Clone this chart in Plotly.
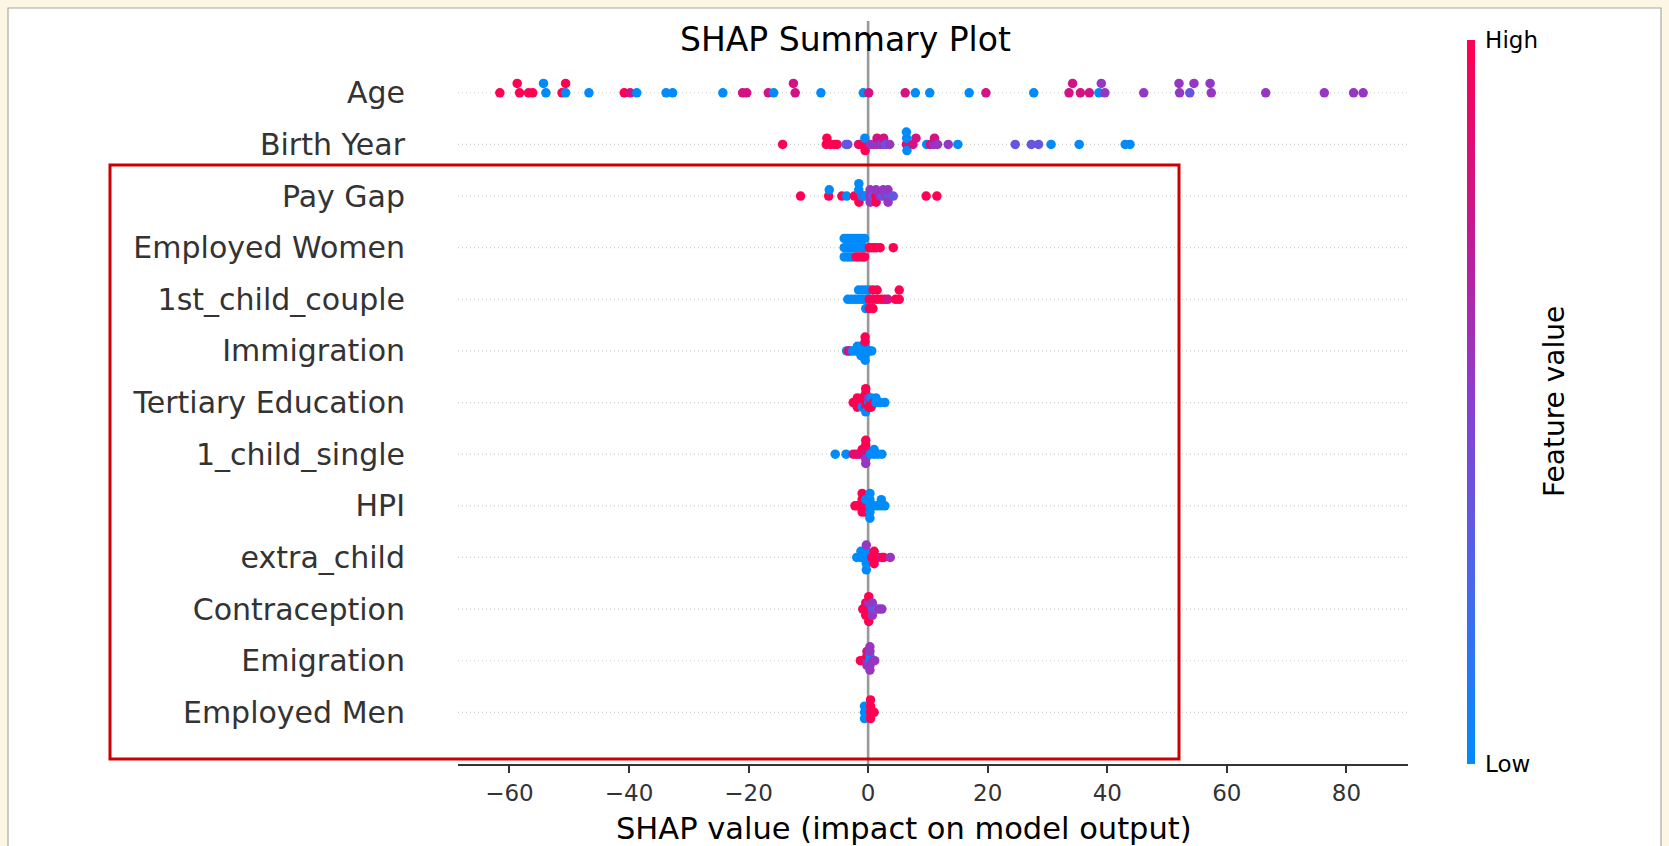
import numpy as np
import plotly.graph_objects as go

W, H = 1669, 846

features = ["Age", "Birth Year", "Pay Gap", "Employed Women", "1st_child_couple",
            "Immigration", "Tertiary Education", "1_child_single", "HPI", "extra_child",
            "Contraception", "Emigration", "Employed Men"]

x_ticks = [-60, -40, -20, 0, 20, 40, 60, 80]

# SHAP values and (normalised) feature values per feature
age_shap = [-61.6, -58.3, -58.7, -56.8, -56.1, -53.9, -54.3, -51.2, -50.6, -50.6, -46.7,
            -40.8, -39.8, -38.7, -33.8, -32.7, -24.3, -21.0, -20.3, -16.7, -15.8, -12.2,
            -12.5, -7.9, -0.8, 0.1, 6.2, 7.9, 10.3, 16.9, 19.7, 27.7, 33.6, 34.2, 35.5,
            37.0, 38.6, 39.6, 39.0, 46.1, 52.1, 52.0, 53.8, 54.5, 57.4, 57.2, 66.5, 76.3,
            81.2, 82.8]
age_fv = [1, 1, 1, 1, 1, 0, 0, 1, 0, 1, 0,
          1, 0.8, 0, 0, 0, 0, 0.8, 0.8, 0.8, 0, 0.8,
          0.8, 0, 0, 0.8, 0.8, 0, 0, 0, 0.8, 0, 0.8, 0.8, 0.8,
          0.8, 0, 0.55, 0.55, 0.55, 0.55, 0.55, 0.35, 0.55, 0.55, 0.55, 0.55, 0.55,
          0.55, 0.55]

by_shap = [-14.3, -7.0, -6.9, -6.3, -5.6, -5.2, -3.7, -3.4, -1.6, -1.2, -0.6, -0.55, -0.5,
           0.4, 0.9, 1.4, 1.5, 2.0, 2.5, 2.6, 3.0, 3.6, 6.4, 6.45, 6.5, 6.4, 7.5, 8.0, 9.8,
           10.4, 11.0, 11.1, 11.6, 13.4, 15.0, 24.6, 27.3, 28.5, 30.6, 35.3, 43.0, 43.8]
by_fv = [1, 1, 1, 1, 1, 1, 0.35, 0.35, 0.8, 1, 1, 0, 1,
         0.55, 0.55, 0.55, 0.8, 0.55, 0.55, 0.8, 0.35, 0.55, 0.8, 0, 0, 0, 0.8, 0.8, 0,
         0.8, 0.55, 0.8, 0.55, 0.55, 0, 0.35, 0.35, 0.35, 0, 0, 0, 0]

pg_shap = [-11.3, -6.6, -6.5, -4.4, -3.6, -2.3, -1.55, -1.57, -1.53, -1.55, -1.0, -0.8, -0.5,
           0.3, 0.32, 0.34, 0.9, 1.3, 1.32, 1.34, 2.0, 2.5, 2.52, 3.0, 3.3, 3.32, 3.34, 4.2,
           9.7, 11.5]
pg_fv = [1, 1, 0, 1, 0, 1, 1, 0, 1, 0, 0, 0.35, 0,
         0.55, 0.55, 0.55, 0.35, 1, 0.55, 1, 0.55, 0.35, 0.55, 0.55, 0.35, 0.55, 0.55, 0.35,
         1, 1]

ew_shap = [-4.0, -4.0, -4.0, -3.5, -3.5, -3.5, -3.0, -3.0, -3.0, -2.5, -2.5, -2.5,
           -2.0, -2.0, -2.0, -1.5, -1.5, -1.5, -1.0, -1.0, -1.0, -0.6, -0.6, -0.6,
           0.2, 0.6, 1.0, 1.4, 2.0, 4.2]
ew_fv = [0, 0, 0, 0, 0, 0, 0, 0, 0, 0, 0, 0,
         0, 0, 1, 0, 0, 1, 0, 0, 1, 0, 0, 1,
         1, 1, 1, 1, 1, 1]

cc_shap = [-3.4, -2.8, -2.2, -1.6, -1.6, -1.0, -1.0, -0.4, -0.4, -0.4, 0.2, 0.2, 0.2,
           0.8, 0.8, 0.8, 1.5, 1.5, 2.2, 2.8, 3.3, 4.6, 5.2, 5.2]
cc_fv = [0, 0, 0, 0, 0, 0, 0, 0, 0, 0, 1, 0, 1,
         1, 1, 1, 1, 1, 1, 1, 0.8, 1, 1, 1]

im_shap = [-3.6, -3.3, -3.0, -2.6, -2.2, -1.8, -1.8, -1.2, -1.2, -1.2,
           -0.5, -0.5, -0.5, -0.5, -0.5, -0.5, 0.0, 0.3, 0.6]
im_fv = [0, 0.8, 0.8, 0, 0, 0, 0, 0, 0, 0,
         0, 0, 0, 1, 0, 1, 0, 0, 0]

te_shap = [-2.5, -1.8, -1.8, -1.8, -1.0, -1.0, -1.0, -0.4, -0.4, -0.4, -0.4, -0.4, -0.4,
           0.1, 0.1, 0.1, 0.5, 0.5, 0.5, 0.9, 1.3, 1.3, 2.0, 2.8]
te_fv = [1, 1, 1, 1, 1, 1, 0, 1, 1, 1, 1, 0, 1,
         0, 0.55, 1, 1, 0, 1, 1, 0, 0, 0, 0]

cs_shap = [-5.5, -3.7, -2.5, -2.0, -1.5, -1.0, -1.0, -0.4, -0.4, -0.4, -0.4, -0.4, -0.4,
           0.4, 1.0, 1.0, 1.6, 2.3]
cs_fv = [0, 0, 0.8, 1, 0.8, 0.8, 1, 0.8, 0.8, 0.55, 1, 0.55, 1,
         0, 0, 0, 0, 0]

hp_shap = [-2.2, -1.7, -1.0, -1.0, -1.0, -1.0, -0.4, -0.4, -0.4, 0.3, 0.3, 0.3, 0.3, 0.3,
           1.0, 1.6, 2.2, 2.2, 2.8]
hp_fv = [1, 1, 1, 1, 1, 1, 1, 0, 1, 0, 0, 0, 0, 0,
         0, 0, 0, 0, 0]

ec_shap = [-1.9, -1.2, -1.2, -0.3, -0.3, -0.3, -0.3, -0.3, 0.6, 1.0, 1.0, 1.0, 1.6, 2.3,
           2.6, 3.7]
ec_fv = [0, 0, 0, 0, 0, 0, 0.55, 0, 1, 1, 1, 1, 1, 0.8,
         1, 0.55]

co_shap = [-0.9, -0.4, -0.4, -0.4, 0.1, 0.1, 0.1, 0.1, 0.1, 0.7, 0.7, 0.7, 1.3, 1.8, 2.3]
co_fv = [1, 1, 1, 1, 1, 0.55, 1, 1, 1, 0.35, 0.55, 0.55, 0.35, 0.55, 0.55]

em_shap = [-1.3, -0.8, -0.2, -0.2, -0.2, -0.2, 0.3, 0.3, 0.3, 0.3, 0.3, 0.3, 0.8, 1.1]
em_fv = [1, 1, 0.55, 1, 0.55, 0.8, 0, 0, 0.55, 0.55, 0.55, 0.55, 0.55, 0.55]

emn_shap = [-0.6, -0.6, -0.6, 0.4, 0.4, 0.4, 0.4, 1.0]
emn_fv = [0, 0, 0, 1, 1, 1, 1, 1]

rows = [(age_shap, age_fv), (by_shap, by_fv), (pg_shap, pg_fv), (ew_shap, ew_fv),
        (cc_shap, cc_fv), (im_shap, im_fv), (te_shap, te_fv), (cs_shap, cs_fv),
        (hp_shap, hp_fv), (ec_shap, ec_fv), (co_shap, co_fv), (em_shap, em_fv),
        (emn_shap, emn_fv)]

colorscale = [[0.0, "#008bfb"], [0.25, "#4a66ee"], [0.5, "#8a3fd0"],
              [0.75, "#c8178f"], [1.0, "#ff0052"]]


def swarm(vals, nbins=100, row_height=0.4):
    """SHAP-style beeswarm offsets."""
    v = np.asarray(vals, float)
    quant = np.round(nbins * (v - v.min()) / (v.max() - v.min() + 1e-8))
    inds = np.argsort(quant, kind="stable")
    ys = np.zeros(len(v))
    layer, last = 0, -1
    for i in inds:
        if quant[i] != last:
            layer = 0
        ys[i] = np.ceil(layer / 2) * ((layer % 2) * 2 - 1)
        layer += 1
        last = quant[i]
    ys *= 0.9 * (row_height / np.max(ys + 1))
    return ys


# plot geometry (pixels)
ML, MR, MT, MB = 458, 261, 21, 82
PW, PH = W - ML - MR, H - MT - MB
XR = [-68.6, 90.3]
YR = [-1.0, 13.39]


def px_x(p):
    return (p - ML) / PW


def px_y(p):
    return (H - MB - p) / PH


n = len(features)
fig = go.Figure()
for i, (name, (sv, fv)) in enumerate(zip(features, rows)):
    pos = n - 1 - i
    ys = swarm(sv)
    fig.add_trace(go.Scatter(
        x=sv, y=pos + ys, mode="markers", name=name, showlegend=False,
        hoverinfo="x+name",
        marker=dict(size=9.5, color=fv, colorscale=colorscale, cmin=0, cmax=1,
                    line=dict(width=0),
                    showscale=(i == 0),
                    colorbar=dict(thickness=8, thicknessmode="pixels",
                                  len=(H - MB - 40) / PH, lenmode="fraction",
                                  x=px_x(1467), xanchor="left", y=0, yanchor="bottom",
                                  xpad=0, ypad=0,
                                  outlinewidth=0, tickvals=[0, 1], ticktext=["Low", "High"],
                                  ticks="outside", ticklen=6, tickcolor="rgba(0,0,0,0)",
                                  tickfont=dict(family="DejaVu Sans", size=23, color="#000")))))

shapes = [
    # white inner panel with a thin frame
    dict(type="rect", xref="paper", yref="paper", x0=px_x(8), x1=px_x(1661),
         y0=px_y(880), y1=px_y(8), line=dict(color="#a8a8a8", width=1.2),
         fillcolor="white", layer="below"),
]
for i in range(n):
    shapes.append(dict(type="line", xref="paper", yref="y", x0=0, x1=1, y0=n - 1 - i,
                       y1=n - 1 - i, line=dict(color="#d0d0d0", width=1.2, dash="1px,3px"),
                       layer="below"))
shapes.append(dict(type="line", xref="x", yref="paper", x0=0, x1=0, y0=0, y1=1,
                   line=dict(color="#999999", width=2.6), layer="below"))
# red highlight box
shapes.append(dict(type="rect", xref="paper", yref="paper", x0=px_x(110), x1=px_x(1179),
                   y0=px_y(759), y1=px_y(165), line=dict(color="#cc0000", width=3),
                   fillcolor="rgba(0,0,0,0)", layer="above"))

annotations = [
    dict(text="SHAP Summary Plot", xref="paper", yref="paper", x=px_x(845), y=px_y(40),
         xanchor="center", yanchor="middle", showarrow=False,
         font=dict(family="DejaVu Sans", size=33, color="#000")),
    dict(text="SHAP value (impact on model output)", xref="paper", yref="paper",
         x=px_x(904), y=px_y(828), xanchor="center", yanchor="middle", showarrow=False,
         font=dict(family="DejaVu Sans", size=30.5, color="#000")),
    dict(text="Feature value", xref="paper", yref="paper", x=px_x(1554), y=px_y(402),
         xanchor="center", yanchor="middle", showarrow=False, textangle=-90,
         font=dict(family="DejaVu Sans", size=28, color="#000")),
]

fig.update_layout(
    width=W, height=H,
    margin=dict(l=ML, r=MR, t=MT, b=MB, pad=0),
    paper_bgcolor="#fdf6e4", plot_bgcolor="white",
    font=dict(family="DejaVu Sans", color="#333333"),
    shapes=shapes, annotations=annotations,
    xaxis=dict(range=XR, tickvals=x_ticks, showgrid=False, zeroline=False,
               showline=True, linecolor="#333333", linewidth=2.2,
               ticks="outside", ticklen=7, tickwidth=2, tickcolor="#333333",
               tickfont=dict(family="DejaVu Sans", size=23, color="#333333")),
    yaxis=dict(range=YR, tickvals=[n - 1 - i for i in range(n)], ticktext=features,
               showgrid=False, zeroline=False, showline=False, ticks="",
               ticklabelstandoff=52,
               tickfont=dict(family="DejaVu Sans", size=30, color="#333333")),
)

fig.write_html("out.html",
               config={"displayModeBar": False},
               post_script="document.body.style.margin='0';"
                           "document.body.style.overflow='hidden';"
                           "document.body.style.background='#fdf6e4';")
